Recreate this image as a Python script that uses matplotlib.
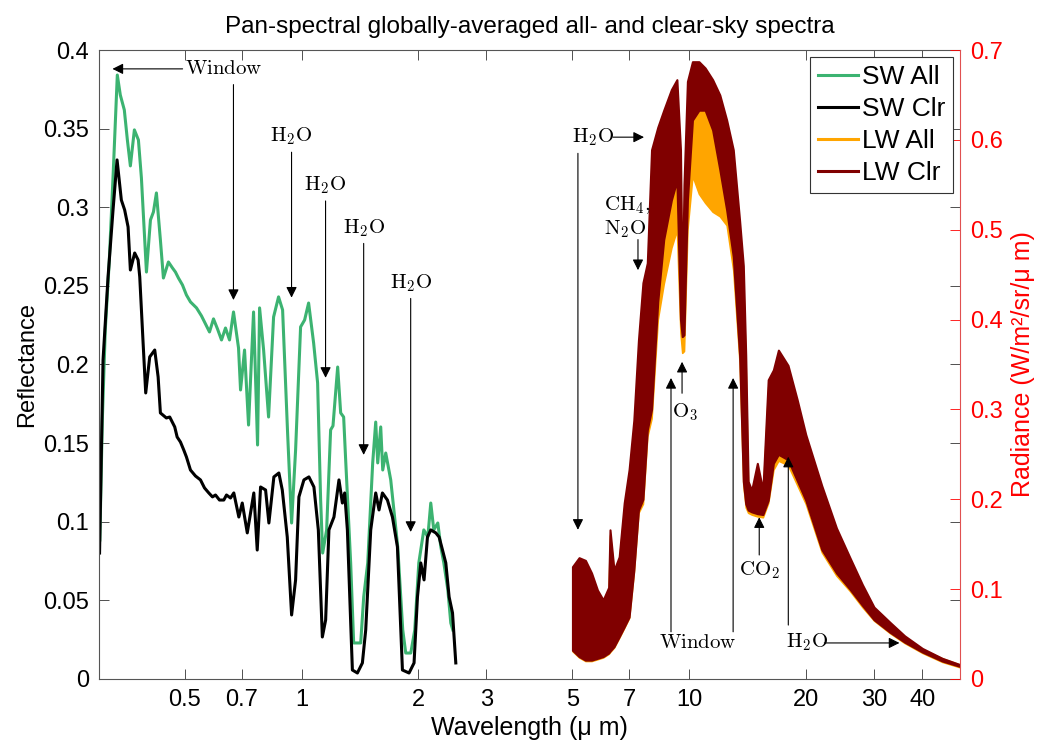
import matplotlib
matplotlib.use("Agg")
import matplotlib.pyplot as plt
from matplotlib.lines import Line2D

plt.rcParams['font.family'] = ['Liberation Sans', 'DejaVu Sans']
plt.rcParams['mathtext.fontset'] = 'cm'

# ---------------- data ----------------
sw_all_wl = [0.3015, 0.3060, 0.3114, 0.3190, 0.3267, 0.3345, 0.3405, 0.3487, 0.3551, 0.3615,
             0.3702, 0.3792, 0.3860, 0.3977, 0.4073, 0.4146, 0.4220, 0.4321, 0.4399, 0.4532,
             0.4642, 0.4725, 0.4810, 0.4926, 0.5044, 0.5166, 0.5355, 0.5516, 0.5649, 0.5785,
             0.5924, 0.6067, 0.6213, 0.6362, 0.6516, 0.6672, 0.6874, 0.6957, 0.7124, 0.7296,
             0.7516, 0.7697, 0.7790, 0.7979, 0.8218, 0.8466, 0.8720, 0.8932, 0.9201, 0.9423,
             0.9649, 0.9940, 1.0180, 1.0425, 1.0740, 1.0998, 1.1197, 1.1332, 1.1603, 1.1882,
             1.2050, 1.2390, 1.2613, 1.2838, 1.2993, 1.3385, 1.3626, 1.4207, 1.4463, 1.4813,
             1.5256, 1.5533, 1.5719, 1.6002, 1.6194, 1.6486, 1.6982, 1.7704, 1.8239, 1.8567,
             1.9130, 1.9591, 2.0065, 2.0672, 2.1170, 2.1544, 2.1933, 2.2462, 2.2870, 2.3281,
             2.3845, 2.4266, 2.4558]
sw_all = [0.0884, 0.1647, 0.2220, 0.2665, 0.3237, 0.3841, 0.3714, 0.3619, 0.3428, 0.3263,
          0.3492, 0.3428, 0.3186, 0.2588, 0.2919, 0.2970, 0.3091, 0.2792, 0.2550, 0.2652,
          0.2614, 0.2588, 0.2550, 0.2506, 0.2442, 0.2398, 0.2360, 0.2309, 0.2258, 0.2207,
          0.2290, 0.2226, 0.2156, 0.2232, 0.2156, 0.2334, 0.2105, 0.1838, 0.2092, 0.1615,
          0.2334, 0.1488, 0.2360, 0.2092, 0.1666, 0.2302, 0.2430, 0.2347, 0.1565, 0.0992,
          0.1456, 0.2239, 0.2283, 0.2391, 0.2137, 0.1883, 0.1138, 0.0801, 0.0948, 0.1584,
          0.1610, 0.1984, 0.1692, 0.1666, 0.1393, 0.0738, 0.0229, 0.0229, 0.0522, 0.0738,
          0.1374, 0.1634, 0.1374, 0.1603, 0.1329, 0.1437, 0.1266, 0.0840, 0.0312, 0.0165,
          0.0165, 0.0312, 0.0738, 0.0948, 0.0903, 0.1119, 0.0948, 0.0992, 0.0840, 0.0738,
          0.0566, 0.0356, 0.0312]

sw_clr_wl = [0.3010, 0.3073, 0.3166, 0.3261, 0.3340, 0.3426, 0.3494, 0.3566, 0.3615, 0.3709,
             0.3785, 0.3822, 0.3899, 0.3960, 0.4055, 0.4178, 0.4263, 0.4321, 0.4477, 0.4567,
             0.4705, 0.4773, 0.4868, 0.4965, 0.5044, 0.5166, 0.5322, 0.5483, 0.5616, 0.5761,
             0.5888, 0.5995, 0.6139, 0.6298, 0.6400, 0.6554, 0.6684, 0.6887, 0.7028, 0.7241,
             0.7528, 0.7682, 0.7836, 0.8073, 0.8233, 0.8481, 0.8736, 0.8915, 0.9183, 0.9423,
             0.9649, 0.9841, 1.0137, 1.0444, 1.0759, 1.1045, 1.1311, 1.1535, 1.1763, 1.2119,
             1.2486, 1.2741, 1.2916, 1.3126, 1.3522, 1.3930, 1.4350, 1.4637, 1.5079, 1.5533,
             1.5842, 1.6164, 1.6651, 1.7155, 1.7672, 1.8205, 1.8936, 1.9507, 1.9907, 2.0301,
             2.0702, 2.1126, 2.1544, 2.2198, 2.2637, 2.3100, 2.3557, 2.4024, 2.4516, 2.4998]
sw_clr = [0.0801, 0.2029, 0.2557, 0.2983, 0.3301, 0.3046, 0.2983, 0.2875, 0.2601, 0.2709,
          0.2665, 0.2557, 0.2137, 0.1819, 0.2048, 0.2092, 0.1921, 0.1692, 0.1660, 0.1666,
          0.1603, 0.1539, 0.1507, 0.1456, 0.1412, 0.1329, 0.1291, 0.1266, 0.1215, 0.1183,
          0.1158, 0.1170, 0.1138, 0.1138, 0.1170, 0.1151, 0.1183, 0.1030, 0.1119, 0.0929,
          0.1183, 0.0820, 0.1221, 0.1202, 0.0992, 0.1285, 0.1310, 0.1202, 0.0903, 0.0407,
          0.0630, 0.1158, 0.1266, 0.1285, 0.1221, 0.0948, 0.0267, 0.0375, 0.0948, 0.1030,
          0.1266, 0.1119, 0.1183, 0.0948, 0.0057, 0.0038, 0.0102, 0.0312, 0.0948, 0.1183,
          0.1075, 0.1183, 0.1138, 0.1030, 0.0840, 0.0057, 0.0038, 0.0102, 0.0522, 0.0738,
          0.0630, 0.0903, 0.0948, 0.0929, 0.0903, 0.0820, 0.0738, 0.0522, 0.0420, 0.0102]

lw_wl = [5.0, 5.2, 5.4, 5.6, 5.8, 6.0, 6.2, 6.25, 6.4, 6.6, 6.8, 7.0, 7.2, 7.4, 7.6, 7.8,
         8.0, 8.3, 8.6, 9.0, 9.3, 9.5, 9.6, 9.7, 9.9, 10.2, 10.6, 11.0, 11.5, 12.0, 12.5,
         13.0, 13.5, 13.8, 14.0, 14.2, 14.5, 15.0, 15.5, 16.0, 16.5, 17.0, 18.0, 19.0, 20.0,
         22.0, 24.0, 26.0, 28.0, 30.0, 33.0, 36.0, 40.0, 45.0, 50.0]
lw_clr_hi = [0.125, 0.135, 0.132, 0.118, 0.099, 0.088, 0.102, 0.166, 0.121, 0.136, 0.196,
             0.233, 0.288, 0.377, 0.441, 0.463, 0.589, 0.614, 0.633, 0.656, 0.667, 0.589,
             0.422, 0.550, 0.665, 0.687, 0.687, 0.680, 0.667, 0.650, 0.622, 0.589, 0.510,
             0.460, 0.360, 0.220, 0.210, 0.240, 0.210, 0.333, 0.344, 0.366, 0.349, 0.311,
             0.272, 0.215, 0.168, 0.135, 0.105, 0.080, 0.063, 0.048, 0.034, 0.023, 0.016]
lw_clr_lo = [0.032, 0.025, 0.021, 0.021, 0.023, 0.025, 0.029, 0.031, 0.036, 0.047, 0.058,
             0.069, 0.121, 0.188, 0.200, 0.277, 0.300, 0.420, 0.489, 0.533, 0.555, 0.400,
             0.381, 0.383, 0.533, 0.622, 0.633, 0.633, 0.611, 0.567, 0.522, 0.470, 0.360,
             0.220, 0.195, 0.188, 0.186, 0.184, 0.183, 0.199, 0.240, 0.250, 0.244, 0.221,
             0.199, 0.144, 0.118, 0.100, 0.082, 0.066, 0.052, 0.041, 0.030, 0.020, 0.014]
lw_all_hi = [0.120, 0.133, 0.130, 0.116, 0.097, 0.086, 0.100, 0.160, 0.119, 0.133, 0.190,
             0.225, 0.278, 0.360, 0.425, 0.445, 0.560, 0.585, 0.600, 0.615, 0.625, 0.560,
             0.400, 0.500, 0.620, 0.646, 0.645, 0.637, 0.622, 0.605, 0.585, 0.550, 0.490,
             0.440, 0.345, 0.212, 0.205, 0.228, 0.205, 0.325, 0.335, 0.352, 0.335, 0.300,
             0.262, 0.207, 0.163, 0.131, 0.102, 0.078, 0.061, 0.047, 0.033, 0.023, 0.016]
lw_all_lo = [0.031, 0.024, 0.020, 0.020, 0.022, 0.024, 0.028, 0.030, 0.035, 0.046, 0.057,
             0.068, 0.119, 0.185, 0.195, 0.270, 0.290, 0.400, 0.440, 0.480, 0.500, 0.385,
             0.363, 0.365, 0.500, 0.560, 0.540, 0.530, 0.520, 0.515, 0.505, 0.455, 0.352,
             0.216, 0.191, 0.185, 0.183, 0.181, 0.180, 0.196, 0.233, 0.243, 0.238, 0.216,
             0.195, 0.141, 0.115, 0.098, 0.080, 0.065, 0.051, 0.040, 0.029, 0.019, 0.013]

xticks = [0.5, 0.7, 1, 2, 3, 5, 7, 10, 20, 30, 40]
xticklabels = ['0.5', '0.7', '1', '2', '3', '5', '7', '10', '20', '30', '40']
yticks_left = [0, 0.05, 0.1, 0.15, 0.2, 0.25, 0.3, 0.35, 0.4]
yticklabels_left = ['0', '0.05', '0.1', '0.15', '0.2', '0.25', '0.3', '0.35', '0.4']
yticks_right = [0, 0.1, 0.2, 0.3, 0.4, 0.5, 0.6, 0.7]
yticklabels_right = ['0', '0.1', '0.2', '0.3', '0.4', '0.5', '0.6', '0.7']

C_SWALL = '#3cb371'
C_SWCLR = 'black'
C_LWALL = '#ffa500'
C_LWCLR = '#800000'

# ---------------- figure ----------------
fig = plt.figure(figsize=(10.52, 7.52), dpi=100)
ax = fig.add_axes([0.0941, 0.0971, 0.8184, 0.8364])
ax2 = ax.twinx()

ax.plot(sw_all_wl, sw_all, color=C_SWALL, lw=2.2, solid_joinstyle='round')
ax.plot(sw_clr_wl, sw_clr, color=C_SWCLR, lw=2.2, solid_joinstyle='round')

ax2.fill_between(lw_wl, lw_all_lo, lw_all_hi, facecolor=C_LWALL, edgecolor=C_LWALL, lw=1.2)
ax2.fill_between(lw_wl, lw_clr_lo, lw_clr_hi, facecolor=C_LWCLR, edgecolor=C_LWCLR, lw=1.5)

ax.set_xscale('log')
ax.set_xlim(0.3, 50)
ax.set_ylim(0, 0.4)
ax2.set_ylim(0, 0.7)
ax.set_xticks(xticks)
ax.set_xticklabels(xticklabels)
ax.xaxis.set_minor_locator(matplotlib.ticker.NullLocator())
ax.set_yticks(yticks_left)
ax.set_yticklabels(yticklabels_left)
ax2.set_yticks(yticks_right)
ax2.set_yticklabels(yticklabels_right)

TFS = 17
ax.tick_params(axis='both', direction='in', length=7, width=0.6, labelsize=TFS,
               top=True, right=True, color='#333333', pad=7)
ax2.tick_params(axis='y', direction='in', length=7, width=0.6, labelsize=TFS,
                colors='red', pad=7)
for s in ['left', 'bottom', 'top']:
    ax.spines[s].set_color('#555555')
    ax.spines[s].set_linewidth(0.8)
for s in ['left', 'bottom', 'top']:
    ax2.spines[s].set_visible(False)
ax2.spines['right'].set_color('#e05050')
ax2.spines['right'].set_linewidth(0.8)
ax.spines['right'].set_visible(False)

ax.set_xlabel('Wavelength (\u03bc m)', fontsize=18, labelpad=4)
ax.set_ylabel('Reflectance', fontsize=17, labelpad=4)
ax2.set_ylabel('Radiance (W/m\u00b2/sr/\u03bc m)', fontsize=18, color='red', labelpad=6)
ax.set_title('Pan-spectral globally-averaged all- and clear-sky spectra', fontsize=17.5, pad=12)

# ---------------- annotations ----------------
afs = 15
ap = dict(arrowstyle='-|>', color='k', lw=0.8, mutation_scale=16, shrinkA=0, shrinkB=0)

def arrow(a, tip, start):
    a.annotate('', xy=tip, xytext=start, arrowprops=ap)

def label(a, x, y, s, ha='center'):
    a.text(x, y, s, fontsize=afs, ha=ha, va='center')

# shortwave (reflectance axis)
label(ax, 0.629, 0.388, r'$\mathrm{Window}$')
arrow(ax, (0.325, 0.388), (0.493, 0.388))
arrow(ax, (0.667, 0.241), (0.667, 0.378))
label(ax, 0.942, 0.345, r'$\mathrm{H_2O}$')
arrow(ax, (0.942, 0.2425), (0.942, 0.335))
label(ax, 1.153, 0.314, r'$\mathrm{H_2O}$')
arrow(ax, (1.153, 0.1915), (1.153, 0.304))
label(ax, 1.446, 0.287, r'$\mathrm{H_2O}$')
arrow(ax, (1.446, 0.1425), (1.446, 0.277))
label(ax, 1.912, 0.252, r'$\mathrm{H_2O}$')
arrow(ax, (1.912, 0.0935), (1.912, 0.242))

# longwave (radiance axis)
label(ax2, 5.65, 0.603, r'$\mathrm{H_2O}$')
arrow(ax2, (7.65, 0.603), (6.36, 0.603))
arrow(ax2, (5.165, 0.166), (5.165, 0.585))
ax2.text(6.03, 0.5275, r'$\mathrm{CH_4,}$', fontsize=afs, ha='left', va='center')
ax2.text(6.03, 0.501, r'$\mathrm{N_2O}$', fontsize=afs, ha='left', va='center')
arrow(ax2, (7.38, 0.455), (7.38, 0.489))
label(ax2, 9.75, 0.297, r'$\mathrm{O_3}$')
arrow(ax2, (9.59, 0.353), (9.59, 0.318))
label(ax2, 10.5, 0.041, r'$\mathrm{Window}$')
arrow(ax2, (8.98, 0.335), (8.98, 0.0525))
arrow(ax2, (12.99, 0.335), (12.99, 0.0525))
label(ax2, 15.2, 0.1213, r'$\mathrm{CO_2}$')
arrow(ax2, (15.17, 0.180), (15.17, 0.138))
label(ax2, 20.2, 0.0412, r'$\mathrm{H_2O}$')
arrow(ax2, (18.03, 0.2474), (18.03, 0.060))
arrow(ax2, (34.9, 0.0401), (22.33, 0.0401))

# ---------------- legend ----------------
handles = [Line2D([], [], color=C_SWALL, lw=2.2),
           Line2D([], [], color=C_SWCLR, lw=2.2),
           Line2D([], [], color=C_LWALL, lw=2.2),
           Line2D([], [], color=C_LWCLR, lw=2.2)]
leg = ax2.legend(handles, ['SW All', 'SW Clr', 'LW All', 'LW Clr'], loc='upper right',
                 fontsize=19, frameon=True, fancybox=False, framealpha=1,
                 edgecolor='#333333', borderaxespad=0.27, handlelength=1.5,
                 handletextpad=0.15, labelspacing=0.3, borderpad=0.3)
leg.get_frame().set_linewidth(0.8)

fig.savefig('out.png', dpi=100)
